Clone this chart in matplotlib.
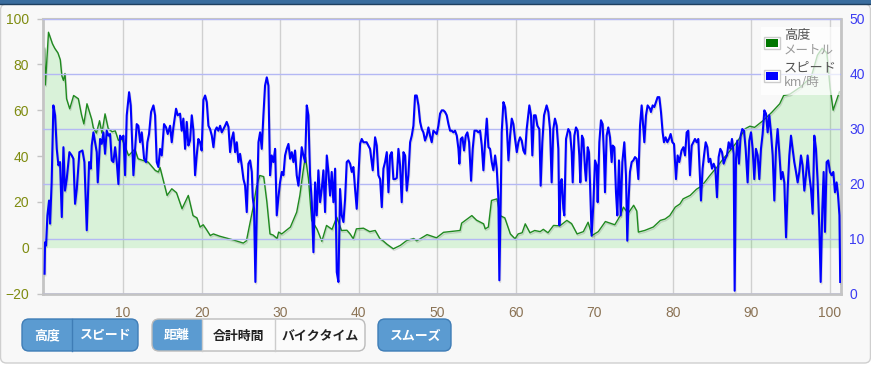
import numpy as np
import matplotlib
matplotlib.use("Agg")
import matplotlib.pyplot as plt
import matplotlib.patheffects as pe
from matplotlib.patches import Rectangle, FancyBboxPatch

# elevation profile (km, m)
elv_km = [0.0, 0.1, 0.5, 1.0, 1.3, 1.7, 2.0, 2.2, 2.4, 2.6, 2.8, 3.2, 3.7, 4.3, 4.7, 5.0,
          5.4, 6.0, 6.2, 6.6, 7.0, 7.3, 7.7, 8.1, 8.6, 9.0, 9.4, 9.8, 10.7, 11.5, 11.9,
          13.2, 14.1, 14.5, 14.7, 15.6, 16.2, 16.8, 17.5, 18.3, 18.9, 19.4, 19.8, 20.2,
          20.6, 21.1, 21.5, 22.3, 24.0, 25.3, 25.7, 26.6, 27.0, 27.4, 27.9, 28.3, 28.7,
          29.1, 29.6, 29.8, 30.2, 31.3, 32.1, 32.5, 32.9, 33.2, 33.6, 34.0, 34.7, 35.3,
          35.9, 36.6, 37.2, 37.8, 38.5, 38.9, 39.3, 39.7, 40.6, 41.4, 42.1, 42.7, 43.1,
          43.6, 44.4, 45.3, 46.1, 47.0, 47.4, 48.7, 49.9, 50.8, 52.9, 53.1, 54.4, 55.0,
          55.9, 56.1, 56.5, 56.9, 57.6, 58.0, 58.6, 59.3, 59.9, 60.3, 60.8, 61.2, 61.8,
          62.4, 63.1, 63.5, 64.1, 64.8, 65.6, 66.5, 67.1, 67.8, 68.6, 69.2, 69.7, 70.5,
          71.4, 72.2, 72.6, 73.3, 73.7, 74.3, 75.0, 75.4, 75.6, 76.4, 77.5, 78.4, 79.0,
          79.6, 80.3, 80.9, 81.3, 82.2, 83.0, 83.7, 84.7, 85.6, 86.4, 87.3, 88.3, 89.2,
          89.8, 90.4, 91.5, 92.6, 93.6, 94.1, 94.9, 96.2, 97.6, 98.4, 99.0, 99.6, 100.0,
          100.4, 100.8, 101.2]
elv_m = [87, 71, 94, 89, 87, 85, 82, 75, 73, 76, 65, 60.6, 66.4, 65, 58, 54,
         62.8, 56, 52.4, 50, 55.4, 50, 58.4, 52, 50.6, 51, 46.8, 48, 40.2, 43, 38.8,
         37.3, 33.7, 33, 35, 22.8, 25.7, 24, 17, 22.8, 14, 13, 9, 10,
         8, 5.3, 6, 5, 3.4, 2, 3, 18.4, 27, 31.5, 31, 20, 6,
         5.5, 4, 6.8, 6, 9, 15.5, 22.8, 33, 40, 30, 12, 8, 2.8,
         9.7, 8, 13.3, 7.5, 7.6, 6, 3.9, 8.2, 8.5, 7, 7.5, 3.9, 3,
         1.5, -0.5, 1, 3.1, 4, 3, 5.7, 4.3, 6.7, 7.5, 10.7, 14, 12,
         10.4, 8.2, 9, 20.6, 21.3, 14, 13, 6, 3.9, 6, 6.5, 10.4, 6.5,
         7.5, 7, 8, 6.5, 9.7, 9.5, 11.9, 10.5, 6, 7, 11.1, 5.3, 7,
         11.4, 10.5, 10, 14, 17.7, 15, 18.5, 16, 6.8, 7.5, 9, 11.9, 12.5,
         14, 17.7, 19.1, 21.3, 22.8, 25.5, 27, 31.5, 35.1, 38.8, 42.4, 46.8, 51.9,
         53, 52.5, 55.5, 59.1, 62.8, 66.4, 67, 70, 74.4, 84, 87, 85, 70,
         60, 64, 68]

# speed (km, km/h)
spd_km = [0.0, 0.06, 0.19, 0.36, 0.57, 0.7, 0.9, 1.12, 1.34, 1.55, 1.76, 1.97, 2.19, 2.4, 2.6,
          2.82, 3.16, 3.46, 3.67, 3.88, 4.1, 4.43, 4.82, 5.07, 5.37, 5.67, 5.88, 6.0, 6.22,
          6.43, 6.64, 6.77, 7.07, 7.28, 7.49, 7.7, 7.91, 8.13, 8.34, 8.55, 8.76, 8.98, 9.19,
          9.4, 9.61, 9.82, 10.04, 10.25, 10.46, 10.76, 10.97, 11.31, 11.52, 11.73, 11.94,
          12.16, 12.37, 12.67, 12.92, 13.09, 13.3, 13.56, 13.86, 14.07, 14.28, 14.49, 14.7,
          14.92, 15.21, 15.47, 15.68, 15.98, 16.19, 16.4, 16.74, 16.95, 17.25, 17.46, 17.67,
          17.89, 18.1, 18.31, 18.52, 18.74, 18.95, 19.16, 19.37, 19.58, 19.79, 20.0, 20.22,
          20.44, 20.65, 20.86, 21.07, 21.29, 21.5, 21.71, 21.92, 22.13, 22.35, 22.56, 22.77,
          22.98, 23.19, 23.41, 23.62, 23.83, 24.04, 24.26, 24.47, 24.68, 24.89, 25.1, 25.32,
          25.53, 25.74, 25.95, 26.17, 26.38, 26.5, 26.67, 26.84, 27.01, 27.23, 27.44, 27.65,
          27.86, 28.07, 28.29, 28.5, 28.71, 28.92, 29.13, 29.35, 29.56, 29.77, 29.98, 30.2,
          30.41, 30.62, 30.83, 31.05, 31.26, 31.47, 31.68, 31.89, 32.1, 32.32, 32.53, 32.74,
          32.95, 33.17, 33.38, 33.59, 33.8, 34.02, 34.23, 34.44, 34.65, 34.86, 35.08, 35.29,
          35.5, 35.71, 35.93, 36.14, 36.35, 36.56, 36.77, 36.99, 37.2, 37.41, 37.62, 37.83,
          38.05, 38.26, 38.47, 38.68, 38.9, 39.11, 39.32, 39.53, 39.74, 39.96, 40.17, 40.38,
          40.6, 41.0, 41.44, 41.78, 42.08, 42.29, 42.5, 42.72, 42.93, 43.14, 43.35, 43.57,
          43.78, 43.99, 44.2, 44.41, 44.63, 44.84, 45.05, 45.26, 45.47, 45.69, 45.9, 46.11,
          46.32, 46.54, 46.75, 46.96, 47.17, 47.38, 47.6, 47.81, 48.02, 48.23, 48.44, 48.66,
          48.87, 49.08, 49.29, 49.5, 49.72, 49.93, 50.14, 50.35, 50.57, 50.78, 50.99, 51.2,
          51.42, 51.63, 51.84, 52.05, 52.26, 52.48, 52.69, 52.81, 52.99, 53.2, 53.41, 53.62,
          53.83, 54.05, 54.3, 54.51, 54.73, 55.02, 55.23, 55.45, 55.66, 55.87, 56.08, 56.3,
          56.51, 56.72, 56.93, 57.14, 57.36, 57.57, 57.78, 57.9, 58.07, 58.2, 58.42, 58.63,
          58.84, 59.06, 59.27, 59.48, 59.69, 59.9, 60.12, 60.33, 60.54, 60.75, 60.96, 61.17,
          61.38, 61.72, 61.93, 62.1, 62.31, 62.52, 62.74, 62.99, 63.16, 63.37, 63.59, 63.92,
          64.14, 64.35, 64.56, 64.77, 64.98, 65.2, 65.41, 65.54, 65.71, 65.84, 66.05, 66.17,
          66.39, 66.68, 66.9, 67.11, 67.24, 67.45, 67.66, 67.87, 68.08, 68.21, 68.42, 68.59,
          68.8, 68.93, 69.15, 69.31, 69.44, 69.65, 69.86, 70.08, 70.29, 70.42, 70.63, 70.84,
          71.05, 71.22, 71.35, 71.56, 71.77, 71.99, 72.2, 72.33, 72.54, 72.75, 72.92, 73.13,
          73.35, 73.56, 73.81, 74.02, 74.19, 74.36, 74.53, 74.75, 74.96, 75.17, 75.38, 75.6,
          75.81, 76.02, 76.23, 76.36, 76.57, 76.78, 77.08, 77.2, 77.42, 77.63, 77.84, 78.05,
          78.27, 78.48, 78.69, 78.86, 79.07, 79.29, 79.5, 79.71, 79.93, 80.14, 80.39, 80.6,
          80.81, 81.1, 81.33, 81.54, 81.75, 81.96, 82.17, 82.39, 82.6, 82.81, 83.02, 83.23,
          83.36, 83.57, 83.78, 83.96, 84.17, 84.38, 84.55, 84.76, 84.97, 85.19, 85.4, 85.61,
          85.82, 86.03, 86.25, 86.46, 86.67, 86.88, 87.1, 87.31, 87.52, 87.73, 87.86, 88.03,
          88.2, 88.41, 88.62, 88.83, 89.05, 89.26, 89.51, 89.72, 89.94, 90.15, 90.36, 90.57,
          90.79, 91.0, 91.21, 91.42, 91.64, 91.85, 92.06, 92.27, 92.48, 92.7, 92.91, 93.12,
          93.33, 93.54, 93.76, 93.97, 94.18, 94.4, 94.61, 94.82, 95.03, 95.24, 95.45, 95.67,
          95.88, 96.09, 96.3, 96.51, 96.73, 96.94, 97.15, 97.36, 97.58, 97.79, 98.0, 98.21,
          98.43, 98.64, 98.81, 99.02, 99.19, 99.36, 99.57, 99.78, 99.99, 100.2, 100.42,
          100.63, 100.84, 101.01, 101.2, 101.3]
spd_kmh = [3.6, 9.3, 8.7, 14.2, 16.9, 12.7, 20.2, 34.2, 32.4, 26.3, 23.3, 23.9, 13.9, 26.6, 18.7,
           20.8, 25.7, 25.1, 24.5, 16.3, 19.0, 25.7, 26.0, 23.9, 11.5, 23.9, 22.7, 26.9, 29.3,
           27.5, 25.7, 20.2, 28.1, 27.2, 29.3, 25.4, 29.6, 28.7, 29.0, 24.2, 23.9, 26.6, 23.9,
           19.9, 28.7, 28.1, 28.7, 21.5, 32.4, 36.6, 34.2, 21.5, 26.3, 30.8, 30.5,
           27.5, 29.3, 24.5, 23.9, 27.5, 29.0, 33.0, 34.2, 32.4, 23.9, 23.0, 26.3,
           25.1, 30.8, 30.2, 29.0, 30.5, 27.5, 30.2, 33.6, 32.4, 32.7, 29.6, 31.8,
           26.3, 31.2, 26.9, 27.8, 32.4, 29.6, 21.5, 25.1, 28.1, 27.5, 26.0, 35.2,
           36.0, 34.8, 30.5, 29.9, 28.7, 26.6, 29.6, 30.2, 29.6, 30.5, 29.3, 29.9,
           30.5, 31.2, 30.3, 25.7, 28.1, 29.3, 25.7, 27.5, 23.9, 25.4, 23.3, 20.8,
           19.6, 14.8, 23.6, 24.2, 22.1, 17.5, 15.4, 2.1, 14.2, 27.5, 29.3, 26.3,
           32.4, 37.8, 39.3, 37.8, 21.5, 25.1, 23.9, 26.3, 14.2, 17.5, 20.2, 22.1,
           21.5, 25.1, 26.3, 27.2, 24.5, 25.7, 23.9, 26.0, 21.5, 19.6, 22.7, 26.6,
           25.1, 23.9, 34.2, 32.4, 21.5, 16.6, 7.5, 20.2, 14.2, 22.4, 16.6, 19.0,
           22.4, 14.8, 25.1, 22.1, 17.8, 22.1, 16.6, 22.7, 3.9, 2.1, 19.0, 14.2,
           13.0, 17.2, 23.9, 24.2, 23.6, 22.1, 23.0, 19.0, 15.4, 21.5, 27.2, 28.1,
           27.5, 27.5, 26.3, 22.4, 28.4, 26.9, 21.5, 20.8, 15.7, 22.7, 23.9, 25.7,
           18.4, 25.1, 25.7, 20.8, 20.8, 21.0, 26.3, 23.3, 16.6, 25.7, 25.1, 18.7,
           21.5, 27.5, 28.7, 30.5, 36.0, 36.0, 34.2, 31.2, 29.9, 29.3, 27.8, 28.7,
           30.2, 28.7, 27.5, 29.6, 29.3, 29.0, 30.5, 32.7, 33.3, 33.3, 33.0, 32.4,
           30.8, 29.6, 29.6, 29.3, 29.6, 28.7, 26.3, 23.6, 28.1, 28.4, 26.0, 28.7,
           29.3, 27.5, 20.5, 26.3, 29.6, 29.6, 29.3, 29.6, 26.9, 22.4, 27.5, 31.8,
           26.6, 26.3, 23.9, 22.4, 25.1, 22.7, 17.2, 2.4, 16.6, 29.3, 34.8, 33.9,
           30.5, 24.2, 28.7, 31.8, 30.8, 28.1, 25.7, 27.5, 28.4, 27.8, 26.0, 25.4,
           29.9, 34.2, 32.4, 25.1, 32.4, 32.4, 30.5, 29.9, 19.6, 27.5, 32.4, 34.2,
           33.0, 29.9, 20.2, 29.9, 31.8, 30.5, 26.3, 12.4, 20.2, 20.8, 15.4, 14.2,
           28.1, 29.9, 29.3, 25.7, 20.2, 28.7, 30.2, 29.6, 25.1, 20.2, 28.7, 28.1,
           22.7, 20.5, 26.6, 25.7, 20.2, 10.5, 16.0, 24.2, 23.3, 16.6, 27.5, 31.5,
           30.8, 25.1, 18.4, 28.7, 30.2, 28.4, 23.9, 26.9, 26.6, 18.4, 14.2, 24.2,
           14.2, 23.9, 27.5, 21.5, 9.6, 17.2, 22.1, 23.9, 24.2, 24.8, 24.5, 20.8,
           30.5, 34.2, 29.9, 27.5, 32.4, 34.2, 33.6, 33.0, 34.2, 33.9, 34.8, 35.7,
           35.7, 33.0, 29.3, 27.5, 28.4, 27.5, 28.1, 29.0, 27.5, 27.2, 20.8, 25.1,
           23.9, 26.0, 26.6, 25.1, 29.3, 29.6, 21.5, 26.9, 27.5, 28.1, 27.5, 28.1,
           23.9, 16.9, 22.7, 25.1, 27.5, 26.6, 23.9, 24.5, 22.7, 23.6, 22.7, 17.5,
           24.8, 26.3, 25.7, 23.6, 24.5, 25.1, 27.5, 26.3, 28.1, 25.4, 0.5, 24.5,
           27.8, 23.6, 28.7, 29.9, 29.6, 26.3, 20.2, 27.8, 29.3, 26.3, 20.8, 26.3,
           25.1, 20.8, 26.3, 29.0, 33.3, 32.7, 29.3, 32.4, 29.3, 25.1, 16.9, 26.3,
           29.9, 25.7, 20.8, 22.1, 20.2, 10.2, 19.0, 25.1, 28.7, 26.3, 23.9, 22.1,
           20.2, 22.1, 25.1, 23.3, 18.7, 21.5, 25.1, 21.5, 19.0, 14.5, 28.7, 26.3,
           20.2, 11.8, 2.1, 15.4, 22.1, 11.2, 23.9, 24.2, 22.1, 21.5, 22.1,
           18.4, 20.2, 18.1, 14.2, 2.1]

x_ticks = [10, 20, 30, 40, 50, 60, 70, 80, 90, 100]
elv_ticks = [-20, 0, 20, 40, 60, 80, 100]
spd_ticks = [0, 10, 20, 30, 40, 50]

cjk = ['Noto Sans CJK JP', 'DejaVu Sans']
W, H = 871, 367

fig = plt.figure(figsize=(W / 100, H / 100), dpi=100, facecolor='white')

# background panel and top bar (pixel coords)
bg = fig.add_axes([0, 0, 1, 1], zorder=0)
bg.set_xlim(0, W)
bg.set_ylim(H, 0)
bg.axis('off')
bg.add_patch(FancyBboxPatch((0.5, 4), W - 1, 359, boxstyle='round,pad=0,rounding_size=6',
                            facecolor='#f8f8f8', edgecolor='#cfcfcf', lw=1))
bg.add_patch(Rectangle((0, 0), W, 4, facecolor='#3a6d9e', edgecolor='none'))
bg.plot([0, W], [4, 4], color='#1e3f5f', lw=1)

# main chart
ax = fig.add_axes([43 / W, 1 - 293.5 / H, 798 / W, 275 / H], zorder=1)
ax.set_facecolor('none')
ax.set_xlim(-0.2, 101.4)
ax.set_ylim(-20, 100)
ax.set_xticks(x_ticks)
ax.set_yticks(elv_ticks)
ax.grid(axis='x', color='#d0d0d0', lw=1)
ax.grid(axis='y', visible=False)
ax.set_axisbelow(True)
for s in ax.spines.values():
    s.set_color('#c4c4c4')
    s.set_linewidth(2)
ax.spines['top'].set_linewidth(1.5)
ax.tick_params(axis='x', length=0, pad=9, labelsize=10, labelcolor='#8b7355')
ax.tick_params(axis='y', length=4, width=1, color='#c4c4c4', pad=6, labelsize=10,
               labelcolor='#7f8c10')
for lab in ax.get_xticklabels() + ax.get_yticklabels():
    lab.set_fontfamily('Liberation Sans')

shadow = [pe.SimpleLineShadow(offset=(0.6, -1.2), shadow_color='black', alpha=0.12), pe.Normal()]
ax.fill_between(elv_km, elv_m, 0, color='#00cc00', alpha=0.12, lw=0)
ax.plot(elv_km, elv_m, color='#1f8a1f', lw=1.0, path_effects=shadow)

ax2 = ax.twinx()
ax2.set_ylim(0, 50)
ax2.set_yticks(spd_ticks)
ax2.grid(axis='y', color='#b4b8f4', lw=1)
for s in ax2.spines.values():
    s.set_visible(False)
ax2.tick_params(axis='y', length=0, pad=6, labelsize=10, labelcolor='#3b3bf2')
for lab in ax2.get_yticklabels():
    lab.set_fontfamily('Liberation Sans')
ax2.plot(spd_km, spd_kmh, color='#0000ff', lw=1.5, path_effects=shadow)

# overlay: legend and buttons (pixel coords)
ov = fig.add_axes([0, 0, 1, 1], zorder=5)
ov.set_xlim(0, W)
ov.set_ylim(H, 0)
ov.axis('off')
ov.patch.set_alpha(0)

ov.add_patch(Rectangle((761, 27), 79, 68, facecolor='white', alpha=0.72, edgecolor='none'))
legend_items = [('#007700', '高度', 'メートル', 37), ('#0000ff', 'スピード', 'km/時', 70)]
for col, name, unit, y in legend_items:
    ov.add_patch(Rectangle((764, y), 16, 12, facecolor='white', edgecolor='#cccccc', lw=1))
    ov.add_patch(Rectangle((766, y + 2), 12, 8, facecolor=col, edgecolor='none'))
    ov.text(784, y - 2, name, family=cjk, fontsize=9.5, color='#545454', va='center')
    ov.text(784, y + 13, unit, family=cjk, fontsize=9, color='#9a9a9a', va='center')

btn_blue, btn_edge = '#5b9bd1', '#3f7db6'
groups = [
    [(22, 72, '高度', True), (72, 138, 'スピード', True)],
    [(152, 202, '距離', True), (202, 275, '合計時間', False), (275, 365, 'バイクタイム', False)],
    [(378, 451, 'スムーズ', True)],
]
by, bh = 319, 32
for segs in groups:
    x0, x1 = segs[0][0], segs[-1][1]
    outline = btn_edge if all(s[3] for s in segs) else '#bbbbbb'
    frame = FancyBboxPatch((x0, by), x1 - x0, bh, boxstyle='round,pad=0,rounding_size=7',
                           facecolor='none', edgecolor='none')
    ov.add_patch(frame)
    for i, (a, b, label, active) in enumerate(segs):
        r = Rectangle((a, by), b - a, bh, facecolor=btn_blue if active else '#fbfbfb',
                      edgecolor='none')
        ov.add_patch(r)
        r.set_clip_path(frame)
        ov.text((a + b) / 2, by + bh / 2 + 0.5, label, family=cjk, fontsize=9.3,
                fontweight='bold', color='white' if active else '#222222',
                ha='center', va='center')
        if i > 0:
            ov.plot([a, a], [by, by + bh], color=btn_edge if active else '#cccccc', lw=1)
    ov.add_patch(FancyBboxPatch((x0, by), x1 - x0, bh, boxstyle='round,pad=0,rounding_size=7',
                                facecolor='none', edgecolor=outline, lw=1))

fig.savefig('out.png', dpi=100, facecolor=fig.get_facecolor())
